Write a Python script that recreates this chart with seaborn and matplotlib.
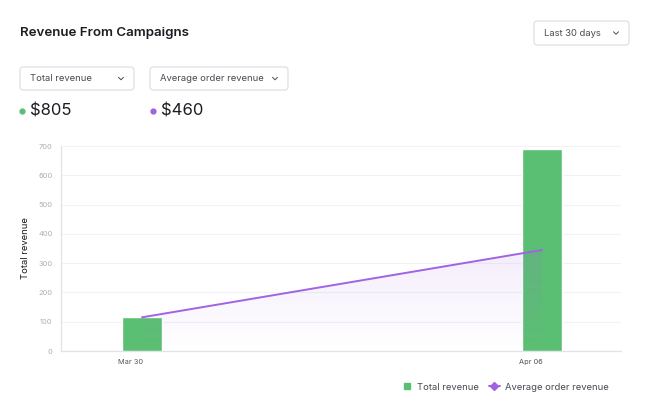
import numpy as np
import pandas as pd
import matplotlib
matplotlib.use("Agg")
import matplotlib.pyplot as plt
import seaborn as sns
from matplotlib.patches import FancyBboxPatch, Polygon
from matplotlib.lines import Line2D

# ── Data ──────────────────────────────────────────────────────────────────────
dates         = ["Mar 30", "Apr 06"]
total_revenue = [115, 690]
avg_order_rev = [115, 345]
total_label   = "$805"
avg_label     = "$460"
y_ticks       = [0, 100, 200, 300, 400, 500, 600, 700]

GREEN  = "#5bbf73"
PURPLE = "#a064e3"
GREY   = "#aeaeb6"
DARK   = "#1c1c22"

sns.set_theme(style="white")
plt.rcParams["font.family"] = ["Inter", "DejaVu Sans"]

fig = plt.figure(figsize=(6.5, 4.2), dpi=100)
fig.patch.set_facecolor("white")

# ── Chart ─────────────────────────────────────────────────────────────────────
ax = fig.add_axes([61 / 650, 1 - 351 / 420, 560 / 650, 205 / 420])
df = pd.DataFrame({"date": dates, "total": total_revenue, "avg": avg_order_rev})
df["pos"] = np.arange(len(df))

sns.barplot(data=df, x="pos", y="total", color=GREEN, width=0.1,
            saturation=1, native_scale=True, ax=ax, zorder=3)

# gradient area under the average line
xs, ys = df["pos"].to_numpy(float), df["avg"].to_numpy(float)
grad = np.zeros((256, 2, 4))
grad[..., :3] = matplotlib.colors.to_rgb(PURPLE)
grad[..., 3] = np.linspace(0.12, 0.0, 256)[:, None]
img = ax.imshow(grad, extent=[xs[0], xs[-1], 0, ys.max()], origin="upper",
                aspect="auto", zorder=3.5)
poly = Polygon(np.column_stack([np.r_[xs, xs[::-1]], np.r_[ys, [0] * len(ys)]]),
               closed=True, transform=ax.transData, visible=False)
ax.add_patch(poly)
img.set_clip_path(poly)

sns.lineplot(data=df, x="pos", y="avg", color=PURPLE, linewidth=1.4, ax=ax, zorder=4)

ax.set_xlim(-0.2025, 1.1975)
ax.set_ylim(0, 700)
ax.set_yticks(y_ticks)
ax.set_yticklabels([str(v) for v in y_ticks], fontsize=5.4, color=GREY)
ax.set_xticks(df["pos"] - 0.028)
ax.set_xticklabels(dates, fontsize=5.3, color="#55555e")
ax.tick_params(axis="y", length=0, pad=6)
ax.tick_params(axis="x", length=0, pad=6)
ax.yaxis.grid(True, color="#f2f2f5", linewidth=0.8)
ax.set_axisbelow(True)
for s in ["top", "right"]:
    ax.spines[s].set_visible(False)
for s in ["left", "bottom"]:
    ax.spines[s].set_color("#e2e2e8")
    ax.spines[s].set_linewidth(0.9)
ax.set_xlabel("")
ax.set_ylabel("Total revenue", fontsize=6.8, color=DARK, labelpad=6)

# ── Header / controls (pixel overlay) ─────────────────────────────────────────
over = fig.add_axes([0, 0, 1, 1])
over.set_xlim(0, 650)
over.set_ylim(420, 0)
over.axis("off")
over.patch.set_alpha(0)

over.text(20, 33, "Revenue From Campaigns", fontsize=9.6, fontweight="semibold",
          color=DARK, va="center", ha="left")


def dropdown(x0, y0, w, h, label):
    over.add_patch(FancyBboxPatch((x0, y0), w, h, boxstyle="round,pad=0,rounding_size=3",
                                  fc="white", ec="#dcdce2", lw=0.8))
    over.text(x0 + 10, y0 + h / 2, label, fontsize=6.8, color="#4a4a52",
              va="center", ha="left")
    cx, cy = x0 + w - 13, y0 + h / 2
    over.plot([cx - 2.5, cx, cx + 2.5], [cy - 1.2, cy + 1.3, cy - 1.2],
              color="#4a4a52", lw=0.7)


dropdown(534, 21, 95, 24, "Last 30 days")
dropdown(20, 67, 114, 23, "Total revenue")
dropdown(150, 67, 138, 23, "Average order revenue")

over.plot(22, 111, "o", ms=3.5, color=GREEN)
over.text(30, 111, total_label, fontsize=12, color=DARK, va="center", ha="left")
over.plot(153, 111, "o", ms=3.5, color=PURPLE)
over.text(161, 111, avg_label, fontsize=12, color=DARK, va="center", ha="left")

# ── Legend ────────────────────────────────────────────────────────────────────
handles = [
    Line2D([], [], marker="s", ms=5, color=GREEN, lw=0),
    Line2D([], [], marker="D", ms=4.5, color=PURPLE, lw=1.4),
]
fig.legend(handles, ["Total revenue", "Average order revenue"],
           loc="center right", bbox_to_anchor=(617 / 650, 1 - 387 / 420),
           ncol=2, frameon=False, fontsize=6.8, handlelength=1.2,
           handletextpad=0.5, columnspacing=1.0, labelcolor="#4a4a52")

fig.savefig("out.png", dpi=100, facecolor="white")
